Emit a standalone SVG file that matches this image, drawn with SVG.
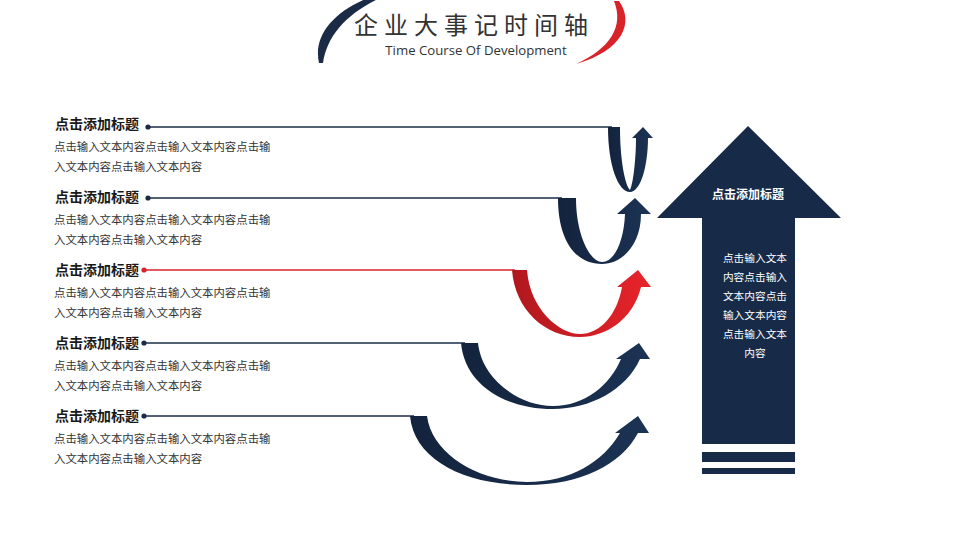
<svg xmlns="http://www.w3.org/2000/svg" width="960" height="540" viewBox="0 0 960 540">
<defs>
<linearGradient id="gNavy" x1="0" y1="0" x2="1" y2="0">
<stop offset="0" stop-color="#13233d"/><stop offset="1" stop-color="#1c3354"/>
</linearGradient>
<linearGradient id="gRed" x1="0" y1="0" x2="1" y2="0">
<stop offset="0" stop-color="#b0181e"/><stop offset="1" stop-color="#e8242b"/>
</linearGradient>
<style>
.t{font-family:"Noto Sans CJK SC","Liberation Sans",sans-serif;font-size:14px;font-weight:bold;fill:#1a1a1a}
.b{font-family:"Noto Sans CJK SC","Liberation Sans",sans-serif;font-size:11.4px;fill:#333}
.ln{stroke:#1b2b45;stroke-width:1.3;fill:none}
.lnr{stroke:#d9232a;stroke-width:1.3;fill:none}
.w{font-family:"Noto Sans CJK SC","Liberation Sans",sans-serif;fill:#fff;text-anchor:middle}
</style>
</defs>
<rect width="960" height="540" fill="#fff"/>

<g id="header">
<path d="M319,63 C313,36 333,12 368,-2 L380,-2 C346,14 327,36 323,63 Z" fill="#1b2b45"/>
<path d="M619,1 C634,22 624,50 576,64 C611,48 624,26 614,1 Z" fill="#d9232a"/>
<text x="474" y="34" font-family="Noto Sans CJK SC,Liberation Sans,sans-serif" font-size="24" letter-spacing="6" fill="#333" text-anchor="middle">企业大事记时间轴</text>
<text x="476" y="55" font-family="Open Sans,Liberation Sans,sans-serif" font-size="13.2" fill="#333" text-anchor="middle">Time Course Of Development</text>
</g>

<g id="connectors">
<line class="ln" x1="148" y1="127" x2="612" y2="127"/>
<line class="ln" x1="148" y1="198" x2="562" y2="198"/>
<line class="lnr" x1="144" y1="270" x2="515" y2="270"/>
<line class="ln" x1="144" y1="343" x2="465" y2="343"/>
<line class="ln" x1="144" y1="416" x2="414" y2="416"/>
<circle cx="148" cy="127" r="2.6" fill="#1b2b45"/>
<circle cx="148" cy="198" r="2.6" fill="#1b2b45"/>
<circle cx="144" cy="270" r="2.6" fill="#d9232a"/>
<circle cx="144" cy="343" r="2.6" fill="#1b2b45"/>
<circle cx="144" cy="416" r="2.6" fill="#1b2b45"/>
<path fill="url(#gNavy)" d="M608,127 L620,127 C620,160 625,185 630,190 C633,185 636,160 636,138 L632,138 L643,127 L653,138 L648,138 C648,165 641,192 630,192 C618,192 608,165 608,127 Z"/>
<path fill="url(#gNavy)" d="M558,198 L576,198 C576,235 590,262 602,262 C615,262 624,240 625,214 L617,214 L635,198 L651,214 L641,214 C641,245 622,264 602,264 C575,264 558,240 558,198 Z"/>
<path fill="url(#gRed)" d="M512,270 L527,270 C530,310 560,334 580,334 C600,334 617,315 622,287 L617,287 L638,270 L651,287 L641,287 C633,320 605,337 580,337 C545,337 515,310 512,270 Z"/>
<path fill="url(#gNavy)" d="M461,343 L478,343 C482,380 520,406 553,406 C585,406 610,385 621,359 L616,359 L639,343 L650,359 L640,359 C626,390 590,409 553,409 C505,409 465,385 461,343 Z"/>
<path fill="url(#gNavy)" d="M410,416 L427,416 C432,455 480,482 527,482 C570,482 603,462 620,433 L615,433 L638,416 L649,433 L638,433 C621,465 580,485 527,485 C465,485 414,460 410,416 Z"/>
</g>

<g id="item1">
<text class="t" x="55" y="129">点击添加标题</text>
<text class="b" x="54" y="151">点击输入文本内容点击输入文本内容点击输</text>
<text class="b" x="54" y="171">入文本内容点击输入文本内容</text>
</g>
<g id="item2">
<text class="t" x="55" y="202">点击添加标题</text>
<text class="b" x="54" y="224">点击输入文本内容点击输入文本内容点击输</text>
<text class="b" x="54" y="244">入文本内容点击输入文本内容</text>
</g>
<g id="item3">
<text class="t" x="55" y="275">点击添加标题</text>
<text class="b" x="54" y="297">点击输入文本内容点击输入文本内容点击输</text>
<text class="b" x="54" y="317">入文本内容点击输入文本内容</text>
</g>
<g id="item4">
<text class="t" x="55" y="348">点击添加标题</text>
<text class="b" x="54" y="370">点击输入文本内容点击输入文本内容点击输</text>
<text class="b" x="54" y="390">入文本内容点击输入文本内容</text>
</g>
<g id="item5">
<text class="t" x="55" y="421">点击添加标题</text>
<text class="b" x="54" y="443">点击输入文本内容点击输入文本内容点击输</text>
<text class="b" x="54" y="463">入文本内容点击输入文本内容</text>
</g>

<g id="bigArrow">
<path d="M748,126 L841,218 L795,218 L795,444 L702,444 L702,218 L657,218 Z" fill="#172b49"/>
<rect x="702" y="452" width="93" height="10" fill="#172b49"/>
<rect x="702" y="468" width="93" height="6" fill="#172b49"/>
<text class="w" x="748" y="199" font-size="12" font-weight="bold">点击添加标题</text>
<g font-size="10.7">
<text class="w" x="755" y="262">点击输入文本</text>
<text class="w" x="755" y="281">内容点击输入</text>
<text class="w" x="755" y="300">文本内容点击</text>
<text class="w" x="755" y="319">输入文本内容</text>
<text class="w" x="755" y="338">点击输入文本</text>
<text class="w" x="755" y="357">内容</text>
</g>
</g>
</svg>
